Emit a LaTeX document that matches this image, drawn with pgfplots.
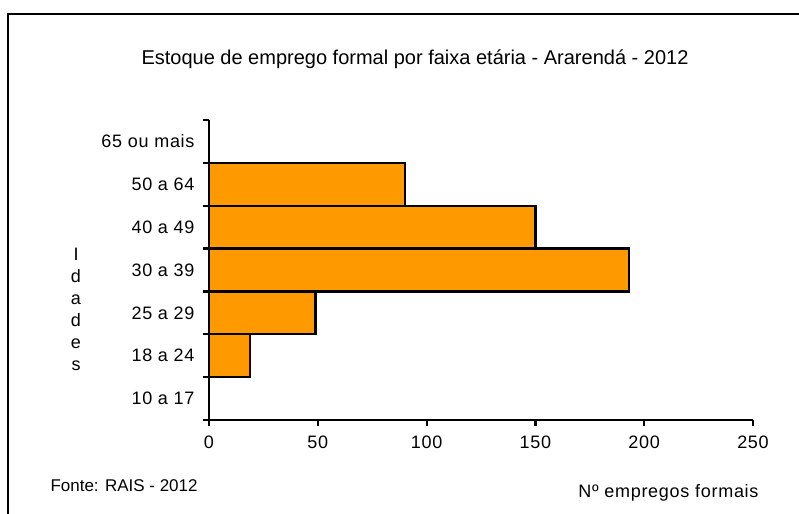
\documentclass[border=0pt]{standalone}
\usepackage{fontspec}
\setmainfont{Liberation Sans}
\newfontfamily\spaced{Liberation Sans}[LetterSpace=4]
\usepackage{pgfplots}
\pgfplotsset{compat=1.18}
\definecolor{barorange}{HTML}{FF9900}
\begin{document}
\begin{tikzpicture}
\path[use as bounding box] (0,0) rectangle (799bp,-514bp);
\draw[line width=1.2bp] (8bp,-514bp) -- (8bp,-14bp) -- (799bp,-14bp);
\begin{axis}[
  at={(209bp,-420bp)}, anchor=south west,
  scale only axis, width=544bp, height=300bp,
  xmin=0, xmax=250, ymin=-0.5, ymax=6.5,
  axis x line*=bottom, axis y line*=left,
  axis line style={line width=2.6bp},
  xtick={0,50,100,150,200,250},
  ytick={-0.5,0.5,1.5,2.5,3.5,4.5,5.5,6.5},
  yticklabels={},
  extra y ticks={0,1,2,3,4,5,6},
  extra y tick labels={10 a 17,18 a 24,25 a 29,30 a 39,40 a 49,50 a 64,65 ou mais},
  extra y tick style={major tick length=0pt, tick style={draw=none}},
  tick align=outside, major tick length=6bp,
  tick style={line width=2.2bp, black},
  /pgf/number format/assume math mode=true,
  tick label style={font=\spaced\fontsize{18bp}{20bp}\selectfont},
  yticklabel style={xshift=-11bp},
  xticklabel style={yshift=-6bp},
  xbar, bar width=1,
  clip=false,
]
\addplot[fill=barorange, draw=black, line width=2.3bp] coordinates {
  (0,0) (19,1) (49,2) (193,3) (150,4) (90,5) (0,6)
};
\end{axis}
\node[font=\fontsize{20bp}{22bp}\selectfont] at (415bp,-59bp) {Estoque de emprego formal por faixa etária - Ararendá - 2012};
\node[font=\fontsize{17bp}{19bp}\selectfont, anchor=base west] at (47bp,-491bp) {Fonte: RAIS - 2012};
\node[font=\spaced\fontsize{18bp}{20bp}\selectfont, anchor=base east] at (762bp,-497bp) {Nº empregos formais};
\node[font=\fontsize{18bp}{22bp}\selectfont, align=center] at (76bp,-309bp) {I\\d\\a\\d\\e\\s};
\end{tikzpicture}
\end{document}
